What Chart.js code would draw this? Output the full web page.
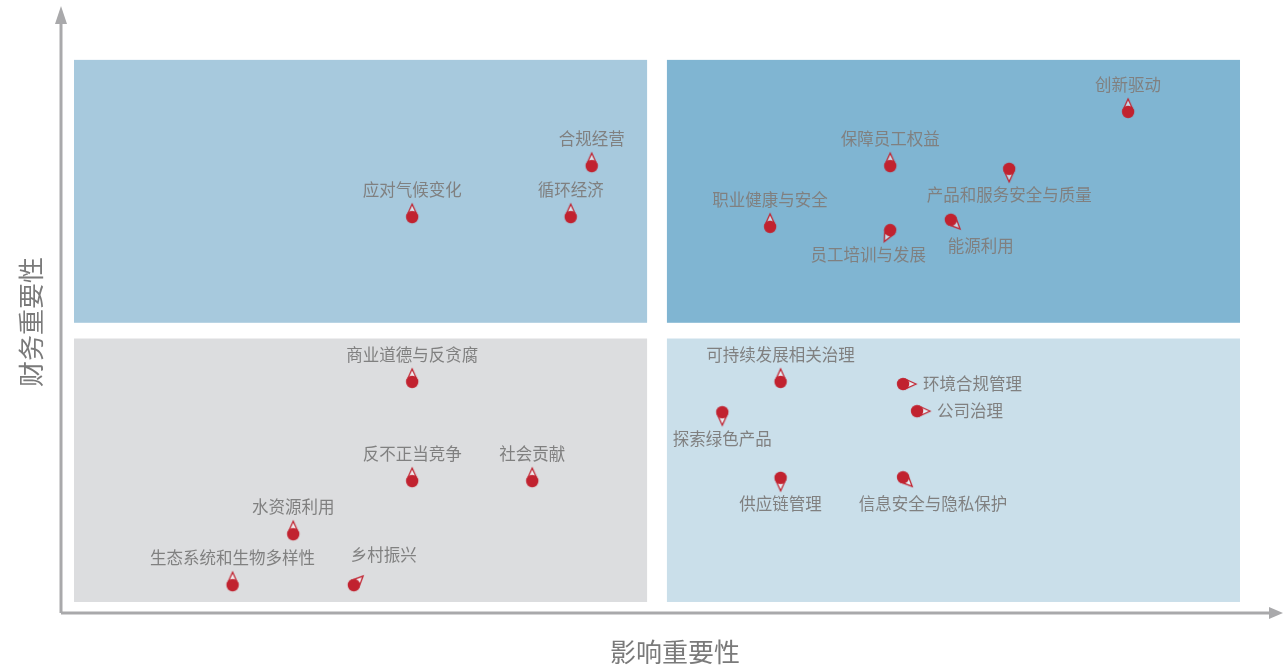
<!DOCTYPE html>
<html>
<head>
<meta charset="utf-8">
<script src="https://cdn.jsdelivr.net/npm/chart.js@4.4.0/dist/chart.umd.min.js"></script>
<style>
  html, body { margin: 0; padding: 0; background: #fff; }
  #wrap { width: 1283px; height: 672px; position: relative; }
</style>
</head>
<body>
<div id="wrap"><canvas id="matrix"></canvas></div>
<script>
// topics, impact (x) and financial (y) importance
var topics = ["合规经营", "循环经济", "应对气候变化",
  "创新驱动", "保障员工权益", "产品和服务安全与质量", "职业健康与安全", "员工培训与发展", "能源利用",
  "商业道德与反贪腐", "反不正当竞争", "社会贡献", "水资源利用", "生态系统和生物多样性", "乡村振兴",
  "可持续发展相关治理", "环境合规管理", "公司治理", "探索绿色产品", "供应链管理", "信息安全与隐私保护"];
var impact = [4.44, 4.26, 2.90,
  9.04, 7.00, 8.02, 5.97, 7.00, 7.52,
  2.90, 2.90, 3.93, 1.88, 1.36, 2.40,
  6.06, 7.11, 7.23, 5.56, 6.06, 7.11];
var financial = [8.04, 7.10, 7.10,
  9.04, 8.04, 7.99, 6.92, 6.86, 7.05,
  4.06, 2.23, 2.23, 1.25, 0.31, 0.31,
  4.06, 4.02, 3.52, 3.50, 2.29, 2.30];
// which side of the pin the label sits on
var labelSide = ["top", "top", "top",
  "top", "top", "bottom", "top", "bottomLeft", "bottomRight",
  "top", "top", "top", "top", "top", "topRight",
  "top", "right", "right", "bottom", "bottom", "bottomRight"];

var RED = "#c1222f";
var sides = {
  top:         { ang: -90, dx: 0,   dy: -27, align: "center" },
  bottom:      { ang: 90,  dx: 0,   dy: 26,  align: "center" },
  right:       { ang: 0,   dx: 20,  dy: 0,   align: "left" },
  bottomLeft:  { ang: 117, dx: -22, dy: 25,  align: "center" },
  bottomRight: { ang: 45,  dx: 30,  dy: 26,  align: "center" },
  topRight:    { ang: -45, dx: 30,  dy: -30, align: "center" }
};

function pin(side) {
  var c = document.createElement("canvas");
  c.width = 34; c.height = 34;
  var g = c.getContext("2d");
  g.translate(17, 17);
  g.rotate(sides[side].ang * Math.PI / 180);
  g.strokeStyle = RED;
  g.lineWidth = 1.3;
  g.beginPath();
  g.moveTo(13, 0);
  g.lineTo(2, -5);
  g.lineTo(2, 5);
  g.closePath();
  g.fillStyle = "rgba(255,255,255,0.55)";
  g.fill();
  g.stroke();
  g.beginPath();
  g.arc(0, 0, 6.2, 0, Math.PI * 2);
  g.fillStyle = RED;
  g.fill();
  return c;
}

var pts = [];
for (var i = 0; i < topics.length; i++) {
  pts.push({ x: impact[i], y: financial[i] });
}

var quadrants = {
  id: "quadrants",
  beforeDatasetsDraw: function(chart) {
    var ctx = chart.ctx, xs = chart.scales.x, ys = chart.scales.y;
    var boxes = [
      [0, 4.915, 5.15, 10, "#a7c9dd"],
      [5.085, 10, 5.15, 10, "#80b5d2"],
      [0, 4.915, 0, 4.86, "#dcdddf"],
      [5.085, 10, 0, 4.86, "#cadfea"]
    ];
    ctx.save();
    boxes.forEach(function(b) {
      var l = xs.getPixelForValue(b[0]), r = xs.getPixelForValue(b[1]);
      var t = ys.getPixelForValue(b[3]), bt = ys.getPixelForValue(b[2]);
      ctx.fillStyle = b[4];
      ctx.fillRect(l, t, r - l, bt - t);
    });
    // axes with arrows
    var a = chart.chartArea;
    var ox = a.left - 1, oy = a.bottom + 1;
    ctx.strokeStyle = "#a9a9ab";
    ctx.fillStyle = "#a9a9ab";
    ctx.lineWidth = 3;
    ctx.beginPath();
    ctx.moveTo(ox, oy); ctx.lineTo(ox, a.top + 14);
    ctx.moveTo(ox, oy); ctx.lineTo(a.right - 8, oy);
    ctx.stroke();
    ctx.beginPath();
    ctx.moveTo(ox, a.top - 4); ctx.lineTo(ox - 6, a.top + 14); ctx.lineTo(ox + 6, a.top + 14);
    ctx.closePath(); ctx.fill();
    ctx.beginPath();
    ctx.moveTo(a.right + 3, oy); ctx.lineTo(a.right - 11, oy - 6); ctx.lineTo(a.right - 11, oy + 6);
    ctx.closePath(); ctx.fill();
    // axis titles
    ctx.fillStyle = "#7a7a7a";
    ctx.font = "26px 'Noto Sans CJK SC'";
    ctx.textAlign = "center";
    ctx.textBaseline = "middle";
    ctx.fillText("影响重要性", (a.left + a.right) / 2 + 4, 652);
    ctx.save();
    ctx.translate(31, 322);
    ctx.rotate(-Math.PI / 2);
    ctx.fillText("财务重要性", 0, 0);
    ctx.restore();
    ctx.restore();
  },
  afterDatasetsDraw: function(chart) {
    var ctx = chart.ctx;
    var meta = chart.getDatasetMeta(0);
    ctx.save();
    ctx.font = "16.5px 'Noto Sans CJK SC'";
    ctx.fillStyle = "#808080";
    ctx.textBaseline = "middle";
    meta.data.forEach(function(el, i) {
      var s = sides[labelSide[i]];
      ctx.textAlign = s.align;
      ctx.fillText(topics[i], el.x + s.dx, el.y + s.dy);
    });
    ctx.restore();
  }
};

new Chart(document.getElementById("matrix"), {
  type: "scatter",
  data: {
    datasets: [{
      label: "议题",
      data: pts,
      pointStyle: labelSide.map(pin),
      pointRadius: 10,
      pointHoverRadius: 10
    }]
  },
  options: {
    responsive: true,
    maintainAspectRatio: false,
    animation: false,
    layout: { autoPadding: false, padding: { left: 62, right: 3, top: 10, bottom: 60 } },
    plugins: { legend: { display: false }, tooltip: { enabled: false } },
    scales: {
      x: { display: false, min: -0.103, max: 10.343 },
      y: { display: false, min: -0.185, max: 10.92 }
    }
  },
  plugins: [quadrants]
});
</script>
</body>
</html>
